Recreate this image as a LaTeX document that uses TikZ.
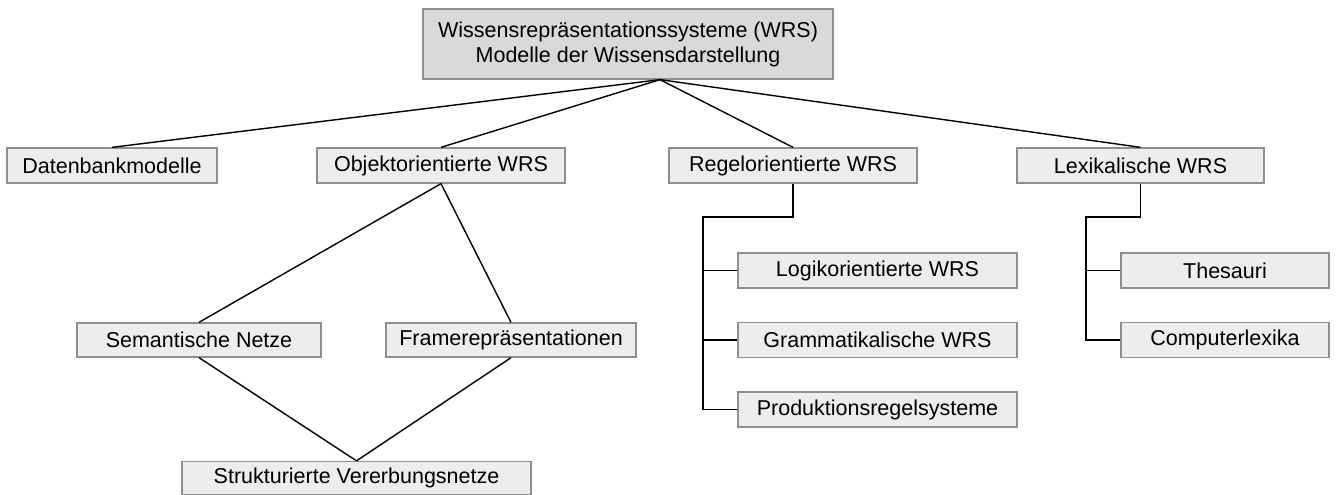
\documentclass[tikz,border=0pt]{standalone}
\usepackage{fontspec}
\setmainfont{Liberation Sans}
\begin{document}
\begin{tikzpicture}[x=1pt,y=-1pt,
  box/.style={draw=boxgray, line width=1.3pt, fill=boxfill, inner sep=0pt,
    minimum height=35pt, font=\fontsize{21.5}{25}\selectfont, anchor=center},
  link/.style={line width=1.4pt, black},
  tree/.style={line width=1.8pt, black}]
\definecolor{boxgray}{HTML}{8E8E8E}
\definecolor{boxfill}{HTML}{EDEDED}
\definecolor{topfill}{HTML}{D9D9D9}
\useasboundingbox (0,0) rectangle (1336,495);

% top level
\node[box, fill=topfill, minimum width=410pt, minimum height=70pt, align=center]
  (top) at (628,44) {Wissensrepräsentationssysteme (WRS)\\Modelle der Wissensdarstellung};
\coordinate (hub) at ([xshift=32pt]top.south);

% second level
\node[box, minimum width=210pt] (db)   at (112,165.5)  {Datenbankmodelle};
\node[box, minimum width=248pt] (obj)  at (441,165.5)  {Objektorientierte WRS};
\node[box, minimum width=248pt] (regel) at (793,165.5) {Regelorientierte WRS};
\node[box, minimum width=247pt] (lex)  at (1140.5,165.5) {Lexikalische WRS};

% object-oriented branch
\node[box, minimum width=244pt, minimum height=34pt] (sem)   at (199,340)   {Semantische Netze};
\node[box, minimum width=250pt, minimum height=34pt] (frame) at (511,340)   {Framerepräsentationen};
\node[box, minimum width=349pt, minimum height=33pt] (strukt) at (356.5,478) {Strukturierte Vererbungsnetze};

% rule-oriented branch
\node[box, minimum width=279pt] (logik) at (877.5,270.5) {Logikorientierte WRS};
\node[box, minimum width=279pt] (gram)  at (877.5,340)   {Grammatikalische WRS};
\node[box, minimum width=279pt] (prod)  at (877.5,409.5) {Produktionsregelsysteme};

% lexical branch
\node[box, minimum width=208pt] (thes) at (1225,270.5) {Thesauri};
\node[box, minimum width=208pt] (comp) at (1225,340)   {Computerlexika};

% connectors from the root
\draw[link] (hub) -- (db.north);
\draw[link] (hub) -- (obj.north);
\draw[link] (hub) -- (regel.north);
\draw[link] (hub) -- (lex.north);

% object-oriented lattice
\draw[link] (obj.south) -- (sem.north);
\draw[link] (obj.south) -- (frame.north);
\draw[link] (sem.south) -- (strukt.north);
\draw[link] (frame.south) -- (strukt.north);

% rule-oriented tree
\coordinate (rbend) at (703,217);
\draw[tree] (regel.south) |- (rbend) -- (rbend |- prod.west) -- (prod.west);
\draw[tree] (rbend |- logik.west) -- (logik.west);
\draw[tree] (rbend |- gram.west) -- (gram.west);

% lexical tree
\coordinate (lbend) at (1086,217);
\draw[tree] (lex.south) |- (lbend) -- (lbend |- comp.west) -- (comp.west);
\draw[tree] (lbend |- thes.west) -- (thes.west);
\end{tikzpicture}
\end{document}
